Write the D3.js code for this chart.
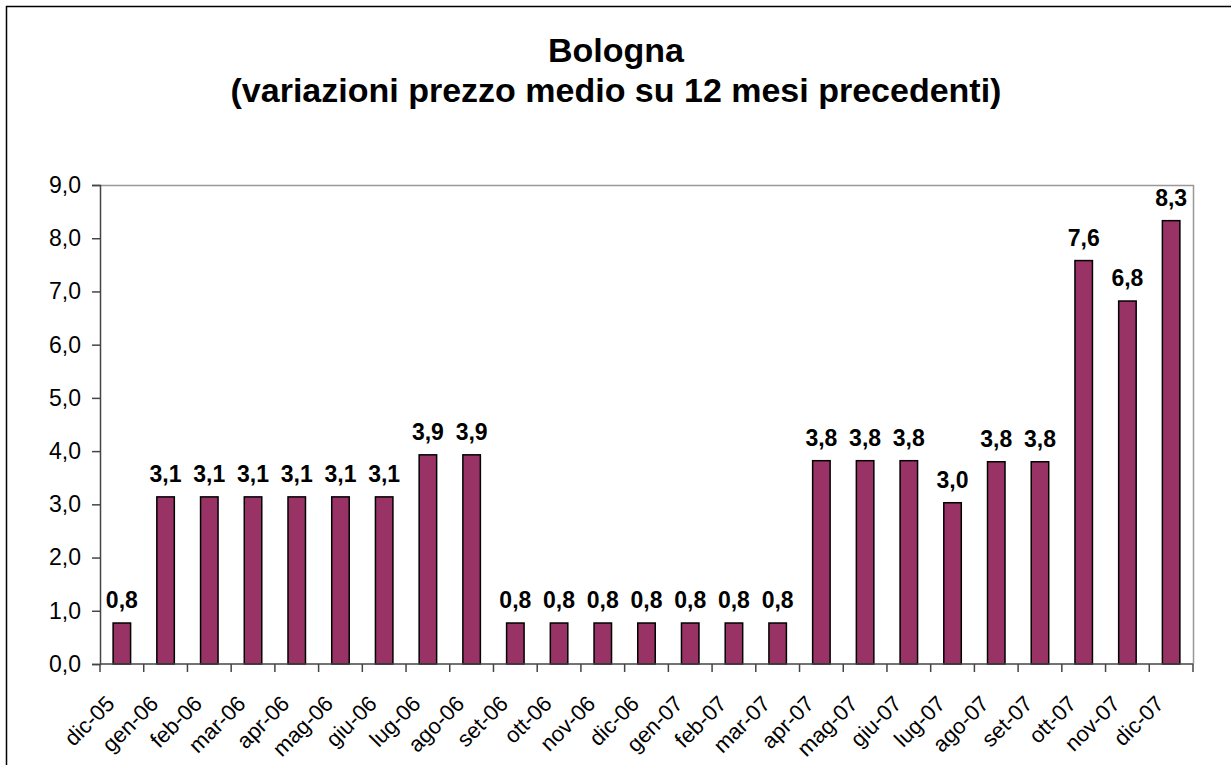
<!DOCTYPE html>
<html>
<head>
<meta charset="utf-8">
<title>Bologna</title>
<script src="https://d3js.org/d3.v7.min.js"></script>
<style>
  body { margin: 0; background: #fff; }
  svg { font-family: "Liberation Sans", Arial, sans-serif; }
  .bar { fill: #993366; stroke: #000; stroke-width: 1.5; }
</style>
</head>
<body>
<svg width="1231" height="765"></svg>
<script>
// months (x categories)
var months = ["dic-05", "gen-06", "feb-06", "mar-06", "apr-06", "mag-06", "giu-06", "lug-06",
  "ago-06", "set-06", "ott-06", "nov-06", "dic-06", "gen-07", "feb-07", "mar-07", "apr-07",
  "mag-07", "giu-07", "lug-07", "ago-07", "set-07", "ott-07", "nov-07", "dic-07"];
// variazione % su 12 mesi
var values = [0.77, 3.14, 3.14, 3.14, 3.14, 3.14, 3.14, 3.93, 3.93, 0.77, 0.77, 0.77, 0.77,
  0.77, 0.77, 0.77, 3.82, 3.82, 3.82, 3.03, 3.8, 3.8, 7.58, 6.82, 8.33];
var yTicks = [0, 1, 2, 3, 4, 5, 6, 7, 8, 9];
var titleLines = ["Bologna", "(variazioni prezzo medio su 12 mesi precedenti)"];

var svg = d3.select("svg");
var pLeft = 100, pRight = 1193, pTop = 185, pBottom = 664;

var fmt = function(v) { return d3.format(".1f")(v).replace(".", ","); };

// outer chart frame
svg.append("rect")
  .attr("x", 6.5).attr("y", 6.5)
  .attr("width", 1240).attr("height", 800)
  .attr("fill", "none").attr("stroke", "#000").attr("stroke-width", 1.5);

svg.selectAll(".title")
  .data(titleLines)
  .enter().append("text")
  .attr("x", 616)
  .attr("y", function(d, i) { return 62 + i * 40; })
  .attr("text-anchor", "middle")
  .style("font-size", "34px")
  .style("font-weight", "bold")
  .text(function(d) { return d; });

var x = d3.scaleBand().domain(months).range([pLeft, pRight]).padding(0);
var y = d3.scaleLinear().domain([0, 9]).range([pBottom, pTop]);

// plot frame (top and right)
svg.append("path")
  .attr("d", "M" + pLeft + "," + (pTop + 0.5) + "H" + (pRight + 0.5) + "V" + pBottom)
  .attr("fill", "none").attr("stroke", "#999").attr("stroke-width", 1.5);

var barW = x.bandwidth() * 0.4;
svg.selectAll(".bar")
  .data(values)
  .enter().append("rect")
  .attr("class", "bar")
  .attr("x", function(d, i) { return x(months[i]) + (x.bandwidth() - barW) / 2; })
  .attr("y", function(d) { return y(d); })
  .attr("width", barW)
  .attr("height", function(d) { return y(0) - y(d); });

svg.selectAll(".val")
  .data(values)
  .enter().append("text")
  .attr("x", function(d, i) { return x(months[i]) + x.bandwidth() / 2; })
  .attr("y", function(d) { return y(d) - 15; })
  .attr("text-anchor", "middle")
  .style("font-size", "23px")
  .style("font-weight", "bold")
  .text(function(d) { return fmt(d); });

// y axis
var yAxis = svg.append("g")
  .attr("transform", "translate(" + pLeft + ",0)")
  .call(d3.axisLeft(y).tickValues(yTicks).tickSize(8).tickPadding(11).tickFormat(fmt));
yAxis.selectAll("line, path").attr("stroke", "#444").attr("stroke-width", 1.5);
yAxis.selectAll("text").style("font-size", "23px").attr("fill", "#000")
  .style("font-family", "'Liberation Sans', Arial, sans-serif");

// x axis: ticks between categories
var xAxis = svg.append("g").attr("transform", "translate(0," + pBottom + ")");
xAxis.append("line")
  .attr("x1", pLeft).attr("x2", pRight)
  .attr("stroke", "#444").attr("stroke-width", 1.5);
xAxis.selectAll(".tick")
  .data(months.concat(["end"]))
  .enter().append("line")
  .attr("x1", function(d, i) { return i < months.length ? x(d) : pRight; })
  .attr("x2", function(d, i) { return i < months.length ? x(d) : pRight; })
  .attr("y1", 0).attr("y2", 8)
  .attr("stroke", "#444").attr("stroke-width", 1.5);
xAxis.selectAll(".lbl")
  .data(months)
  .enter().append("text")
  .attr("transform", function(d) {
    return "translate(" + (x(d) + x.bandwidth() / 2 - 6) + ",41) rotate(-45)";
  })
  .attr("text-anchor", "end")
  .style("font-size", "22px")
  .text(function(d) { return d; });
</script>
</body>
</html>
